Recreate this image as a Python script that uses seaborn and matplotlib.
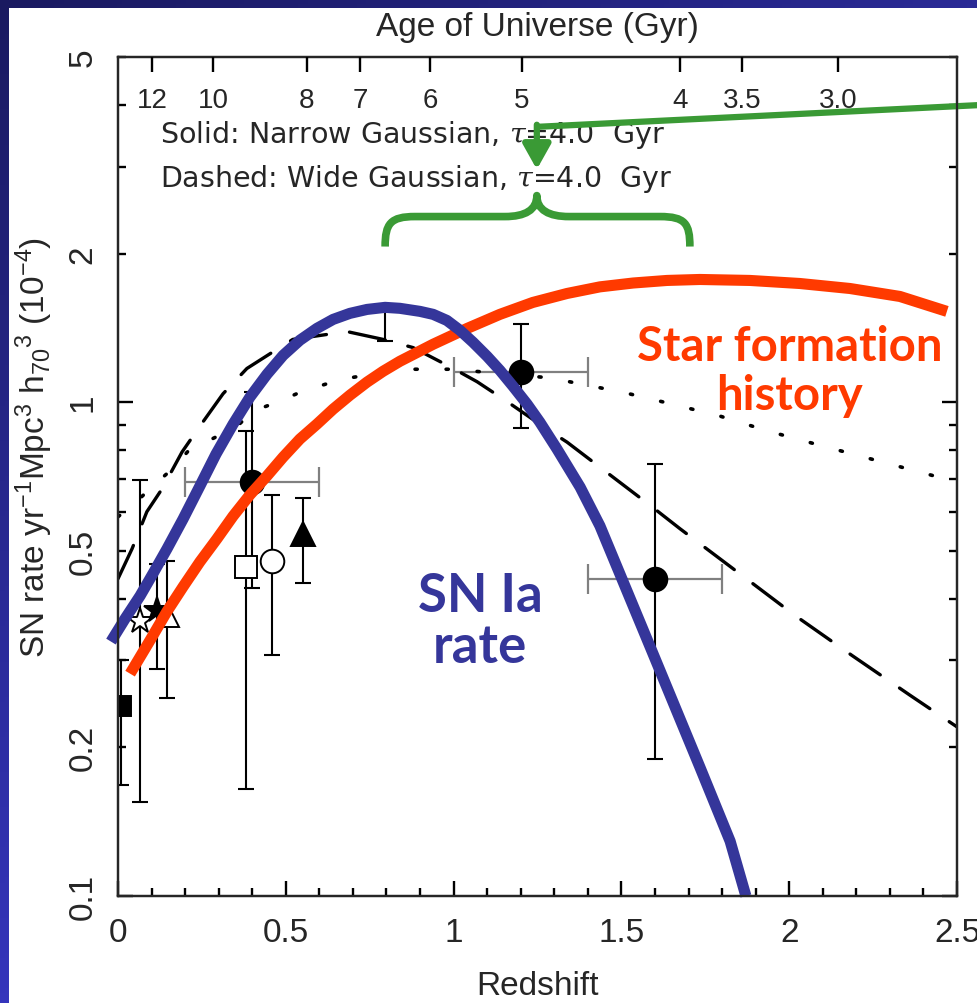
import numpy as np
import pandas as pd
import matplotlib
matplotlib.use("Agg")
import matplotlib.pyplot as plt
import seaborn as sns
from matplotlib import font_manager
from matplotlib.path import Path
from matplotlib.patches import PathPatch, Rectangle
from matplotlib.ticker import FixedLocator, FixedFormatter

# ---------------- data ----------------
# SN Ia rate (thick blue, hand-drawn overlay)
sn_z = [-0.021, 0.021, 0.066, 0.104, 0.146, 0.194, 0.244, 0.292, 0.343, 0.393, 0.444, 0.492,
        0.542, 0.593, 0.641, 0.691, 0.742, 0.796, 0.84, 0.90, 0.939, 0.98, 1.019, 1.058, 1.10,
        1.138, 1.177, 1.219, 1.257, 1.308, 1.377, 1.436, 1.594, 1.734, 1.824, 1.871]
sn_rate = [0.3275, 0.3643, 0.4055, 0.4494, 0.5047, 0.5801, 0.6764, 0.785, 0.9028, 1.0235,
           1.139, 1.244, 1.335, 1.411, 1.471, 1.513, 1.541, 1.556, 1.549, 1.527, 1.506, 1.464,
           1.398, 1.322, 1.238, 1.16, 1.077, 0.991, 0.911, 0.804, 0.673, 0.5617, 0.3097,
           0.1823, 0.1291, 0.10]
# Star formation history (thick red)
sfh_z = [0.036, 0.095, 0.146, 0.194, 0.244, 0.295, 0.343, 0.393, 0.444, 0.492, 0.542, 0.593,
         0.641, 0.691, 0.742, 0.79, 0.84, 0.939, 1.04, 1.138, 1.236, 1.338, 1.436, 1.535,
         1.636, 1.734, 1.883, 2.032, 2.181, 2.33, 2.47]
sfh_rate = [0.282, 0.329, 0.377, 0.423, 0.475, 0.529, 0.588, 0.649, 0.709, 0.774, 0.842, 0.903,
            0.968, 1.033, 1.098, 1.155, 1.21, 1.31, 1.41, 1.506, 1.592, 1.66, 1.712, 1.743,
            1.764, 1.772, 1.764, 1.739, 1.699, 1.637, 1.527]
# Wide Gaussian model (dashed)
wide_z = [0, 0.042, 0.086, 0.131, 0.191, 0.244, 0.313, 0.384, 0.474, 0.521, 0.682, 0.79, 0.879,
          0.989, 1.07, 1.162, 1.278, 1.338, 1.591, 1.675, 1.844, 2.017, 2.187, 2.36, 2.5]
wide_rate = [0.439, 0.505, 0.60, 0.667, 0.793, 0.894, 1.04, 1.17, 1.28, 1.34, 1.39, 1.34, 1.29,
             1.18, 1.10, 1.0, 0.882, 0.83, 0.614, 0.554, 0.454, 0.37, 0.307, 0.255, 0.22]
# Dotted model
dot_z = [0, 0.057, 0.104, 0.161, 0.209, 0.355, 0.402, 0.483, 0.542, 0.623, 0.691, 0.76, 0.84,
         0.989, 1.064, 1.287, 1.505, 1.651, 1.794, 1.937, 2.077, 2.5]
dot_rate = [0.586, 0.631, 0.676, 0.732, 0.796, 0.894, 0.959, 1.005, 1.047, 1.09, 1.12, 1.14, 1.166,
            1.166, 1.155, 1.12, 1.047, 0.991, 0.937, 0.874, 0.823, 0.689]

# Observed rates
obs_z = [0.01, 0.066, 0.116, 0.146, 0.38, 0.40, 0.46, 0.55, 1.20, 1.60]
obs_rate = [0.243, 0.36, 0.38, 0.37, 0.464, 0.689, 0.477, 0.541, 1.15, 0.439]
obs_hi = [0.30, 0.696, 0.47, 0.477, 0.874, 1.05, 0.65, 0.64, 1.44, 0.75]
obs_lo = [0.168, 0.155, 0.288, 0.252, 0.165, 0.42, 0.307, 0.43, 0.886, 0.189]
obs_zerr = [0, 0, 0, 0, 0, 0.2, 0, 0, 0.2, 0.2]
obs_marker = ["s", "*", "*", "^", "s", "o", "o", "^", "o", "o"]
obs_filled = [True, False, True, False, False, True, False, True, True, True]
obs_size = [14, 19, 19, 17, 16, 17, 17, 17, 17, 17]
# stray error bar end near z=0.8
stub_z = [0.795]
stub_lo = [1.33]
stub_hi = [1.55]

# top axis: age of universe
age_labels = ["12", "10", "8", "7", "6", "5", "4", "3.5", "3.0"]
age_z = [0.101, 0.283, 0.563, 0.721, 0.93, 1.204, 1.675, 1.859, 2.145]

x_major = [0, 0.5, 1, 1.5, 2, 2.5]
x_major_lab = ["0", "0.5", "1", "1.5", "2", "2.5"]
y_major = [0.1, 1]
y_minor = [0.2, 0.3, 0.4, 0.5, 0.6, 0.7, 0.8, 0.9, 2, 3, 4, 5]
y_minor_lab = ["0.2", "", "", "0.5", "", "", "", "", "2", "", "", "5"]

# green annotation (pointer + brace), data coords
ptr_z = [2.58, 1.248]
ptr_rate = [4.0, 3.61]
arrow_tip = (1.248, 2.96)

BLUE = "#35369a"
RED = "#ff3a00"
GREEN = "#3a9a35"
GRAY = "#808080"

# ---------------- style ----------------
sns.set_style("ticks")
avail = {f.name for f in font_manager.fontManager.ttflist}
NARROW = "Liberation Sans Narrow" if "Liberation Sans Narrow" in avail else "Liberation Sans"
REG = "Liberation Sans"
plt.rcParams["font.family"] = [REG, "DejaVu Sans"]
plt.rcParams["mathtext.fontset"] = "custom"
plt.rcParams["mathtext.rm"] = REG
plt.rcParams["mathtext.it"] = "DejaVu Serif:italic"
plt.rcParams["mathtext.default"] = "regular"
plt.rcParams["axes.axisbelow"] = False

W, H = 977, 1004
fig = plt.figure(figsize=(W / 100, H / 100), dpi=100)
fig.patch.set_facecolor("white")

# slide background: blue gradient border
bg = fig.add_axes([0, 0, 1, 1], zorder=-10)
yy, xx = np.mgrid[0:1:200j, 0:1:200j]
t = np.clip(0.85 * yy + 0.5 * xx, 0, 1)[..., None]
c0 = np.array([0x1a, 0x1a, 0x60]) / 255
c1 = np.array([0x3a, 0x3a, 0xcc]) / 255
bg.imshow(c0 + (c1 - c0) * t, extent=[0, 1, 0, 1], origin="upper", aspect="auto")
bg.axis("off")
fig.add_artist(Rectangle((9 / W, 0), 1, 1 - 9 / H, transform=fig.transFigure,
                         facecolor="white", edgecolor="none", zorder=-5))

ax = fig.add_axes([118 / W, 1 - 897 / H, (957 - 118) / W, (897 - 58) / H])
ax.set_facecolor("white")
ax.set_yscale("log")
ax.set_xlim(0, 2.5)
ax.set_ylim(0.1, 5)

# error bars
yerr = [np.array(obs_rate) - np.array(obs_lo), np.array(obs_hi) - np.array(obs_rate)]
ax.errorbar(obs_z, obs_rate, yerr=yerr, fmt="none", ecolor="black", elinewidth=1.5,
            capsize=6, capthick=1.5, zorder=3)
hz = [z for z, e in zip(obs_z, obs_zerr) if e > 0]
hr = [r for r, e in zip(obs_rate, obs_zerr) if e > 0]
he = [e for e in obs_zerr if e > 0]
ax.errorbar(hz, hr, xerr=he, fmt="none", ecolor=GRAY, elinewidth=1.6, capsize=11,
            capthick=1.6, zorder=3)
ax.errorbar(stub_z, stub_hi, yerr=[[stub_hi[0] - stub_lo[0]], [0]], fmt="none",
            ecolor="black", elinewidth=1.5, capsize=6, capthick=1.5, zorder=3)
for z, r, m, f, s in zip(obs_z, obs_rate, obs_marker, obs_filled, obs_size):
    ax.plot([z], [r], marker=m, ms=s, mfc="black" if f else "white", mec="black",
            mew=1.4, ls="none", zorder=4)

# model curves
sns.lineplot(x=wide_z, y=wide_rate, ax=ax, color="black", lw=2.4, sort=False,
             estimator=None, zorder=5)
ax.lines[-1].set_dashes((11, 7))
ax.lines[-1].set_dash_capstyle("round")
sns.lineplot(x=dot_z, y=dot_rate, ax=ax, color="black", lw=2.6, sort=False,
             estimator=None, zorder=5)
ax.lines[-1].set_dashes((0.6, 8))
ax.lines[-1].set_dash_capstyle("round")

sns.lineplot(x=sfh_z, y=sfh_rate, ax=ax, color=RED, lw=8, sort=False, estimator=None,
             zorder=7, clip_on=False)
ax.lines[-1].set_solid_capstyle("butt")
ax.lines[-1].set_solid_joinstyle("round")
sns.lineplot(x=sn_z, y=sn_rate, ax=ax, color=BLUE, lw=8, sort=False, estimator=None,
             zorder=8, clip_on=False)
ax.lines[-1].set_solid_capstyle("butt")
ax.lines[-1].set_solid_joinstyle("round")

# ticks
ax.xaxis.set_major_locator(FixedLocator(x_major))
ax.xaxis.set_major_formatter(FixedFormatter(x_major_lab))
ax.xaxis.set_minor_locator(FixedLocator([i / 10 for i in range(26)]))
ax.yaxis.set_major_locator(FixedLocator(y_major))
ax.yaxis.set_major_formatter(FixedFormatter(["0.1", "1"]))
ax.yaxis.set_minor_locator(FixedLocator(y_minor))
ax.yaxis.set_minor_formatter(FixedFormatter(y_minor_lab))
ax.tick_params(axis="both", which="major", direction="in", length=11, width=1.7,
               bottom=True, left=True, top=False, right=True, labelsize=24,
               labelfontfamily=NARROW, color="black")
ax.tick_params(axis="both", which="minor", direction="in", length=6, width=1.7,
               bottom=True, left=True, top=False, right=True, labelsize=24,
               labelfontfamily=NARROW, color="black")
ax.tick_params(axis="x", which="both", pad=15)
ax.tick_params(axis="y", which="both", pad=14, labelrotation=90)
for lab in ax.get_yticklabels(which="both"):
    lab.set_va("center")
for sp in ax.spines.values():
    sp.set_linewidth(1.6)
    sp.set_color("black")

ax.set_xlabel("Redshift", fontsize=24, labelpad=16)
ax.set_ylabel(r"SN rate yr$^{-1}$Mpc$^{3}$ h$_{70}$$^{3}$ (10$^{-4}$)", fontsize=24)
ax.yaxis.set_label_coords(-0.075, 0.536)

ax2 = ax.twiny()
ax2.set_xlim(0, 2.5)
ax2.set_xticks(age_z)
ax2.set_xticklabels(age_labels)
ax2.tick_params(axis="x", direction="in", length=11, width=1.7, pad=-40, labelsize=20,
                labelfontfamily=NARROW, color="black", top=True)
ax2.set_xlabel("Age of Universe (Gyr)", fontsize=24, labelpad=16)
for sp in ax2.spines.values():
    sp.set_linewidth(1.6)

# texts
ax.text(0.125, 3.37, r"Solid: Narrow Gaussian, $\mathit{\tau}$=4.0  Gyr", fontsize=20.5,
        family="DejaVu Sans", va="baseline", zorder=9)
ax.text(0.125, 2.74, r"Dashed: Wide Gaussian, $\mathit{\tau}$=4.0  Gyr", fontsize=20.5,
        family="DejaVu Sans", va="baseline", zorder=9)
ax.text(1.079, 0.378, "SN Ia", color=BLUE, fontsize=38, fontweight="bold", family="Lato",
        ha="center", va="baseline", zorder=9)
ax.text(1.079, 0.298, "rate", color=BLUE, fontsize=38, fontweight="bold", family="Lato",
        ha="center", va="baseline", zorder=9)
ax.text(2.002, 1.22, "Star formation", color=RED, fontsize=34, fontweight="bold",
        family="Lato", ha="center", va="baseline", zorder=9)
ax.text(2.002, 0.968, "history", color=RED, fontsize=34, fontweight="bold", family="Lato",
        ha="center", va="baseline", zorder=9)

# green pointer, arrow and brace
ax.plot(ptr_z, ptr_rate, color=GREEN, lw=4.5, clip_on=False, zorder=10,
        solid_capstyle="butt")
ax.annotate("", xy=arrow_tip, xytext=(ptr_z[1], ptr_rate[1] * 1.01),
            arrowprops=dict(arrowstyle="-|>,head_length=0.75,head_width=0.42", color=GREEN,
                            lw=4.5, shrinkA=0, shrinkB=0, mutation_scale=20),
            annotation_clip=False, zorder=10)
brace_verts = [(0.796, 2.066), (0.796, 2.30), (0.812, 2.376), (0.885, 2.376),
               (1.153, 2.376),
               (1.213, 2.376), (1.248, 2.45), (1.248, 2.62),
               (1.248, 2.45), (1.284, 2.376), (1.344, 2.376),
               (1.615, 2.376),
               (1.690, 2.376), (1.704, 2.30), (1.704, 2.066)]
brace_codes = [Path.MOVETO, Path.CURVE4, Path.CURVE4, Path.CURVE4, Path.LINETO,
               Path.CURVE4, Path.CURVE4, Path.CURVE4, Path.CURVE4, Path.CURVE4, Path.CURVE4,
               Path.LINETO, Path.CURVE4, Path.CURVE4, Path.CURVE4]
ax.add_patch(PathPatch(Path(brace_verts, brace_codes), facecolor="none", edgecolor=GREEN,
                       lw=5.5, zorder=10, capstyle="butt", joinstyle="round"))

fig.savefig("out.png", dpi=100)
